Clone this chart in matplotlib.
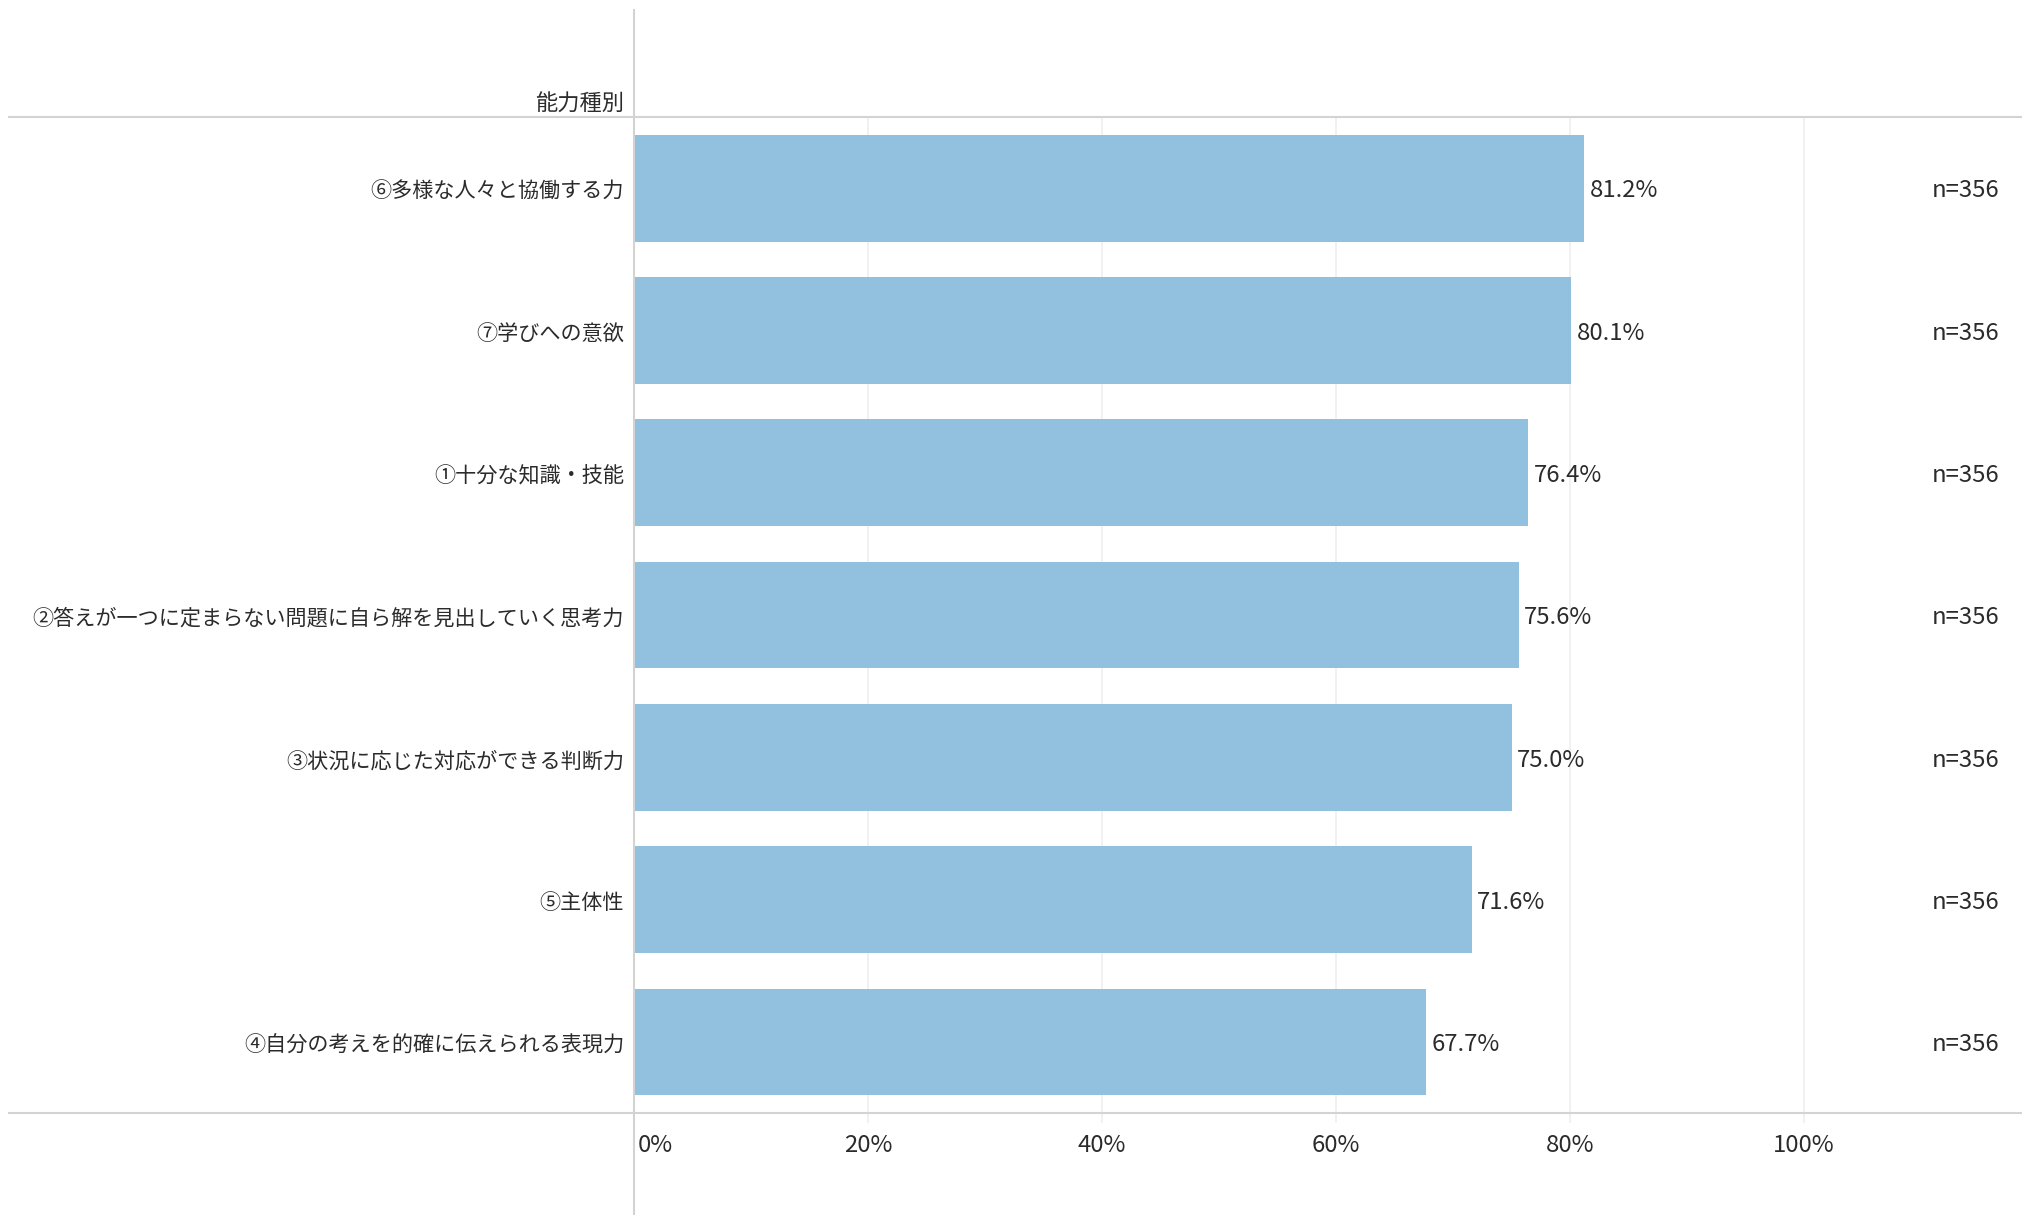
import matplotlib
matplotlib.use("Agg")
import matplotlib.pyplot as plt
from matplotlib.lines import Line2D
from matplotlib.transforms import blended_transform_factory, offset_copy

# data, top to bottom as shown
categories = [
    "⑥多様な人々と協働する力",
    "⑦学びへの意欲",
    "①十分な知識・技能",
    "②答えが一つに定まらない問題に自ら解を見出していく思考力",
    "③状況に応じた対応ができる判断力",
    "⑤主体性",
    "④自分の考えを的確に伝えられる表現力",
]
values = [81.2, 80.1, 76.4, 75.6, 75.0, 71.6, 67.7]
counts = [356, 356, 356, 356, 356, 356, 356]
xticks = [0, 20, 40, 60, 80, 100]
header = "能力種別"

plt.rcParams["font.family"] = ["Noto Sans CJK JP", "DejaVu Sans"]
ink = "#2b2b2b"
bar_col = "#92c0df"
rule = "#d3d3d3"
grid = "#efefef"
num_fs = 17.2
cat_fs = 15.2

W, H = 2022, 1215
fig = plt.figure(figsize=(W / 100, H / 100), dpi=100)
left, top, bottom, right = 634, 117, 1113, 2022
ax = fig.add_axes([left / W, 1 - bottom / H, (right - left) / W, (bottom - top) / H])

px_per_pct = 11.70
ax.set_xlim(0, (right - left) / px_per_pct)
ax.set_ylim(len(categories) - 0.5, -0.5)

ypos = list(range(len(categories)))
ax.barh(ypos, values, height=0.75, color=bar_col, zorder=2)

for x in xticks[1:]:
    ax.axvline(x, color=grid, lw=1.2, zorder=0)

for s in ax.spines.values():
    s.set_visible(False)

ax.set_xticks(xticks)
ax.set_xticklabels([f"{t}%" for t in xticks], fontsize=num_fs, color=ink)
ax.tick_params(axis="x", length=7, color=grid, width=1.2, pad=8)
first = ax.get_xticklabels()[0]
first.set_horizontalalignment("left")
first.set_transform(offset_copy(first.get_transform(), fig=fig, x=3, units="points"))

ax.set_yticks(ypos)
ax.set_yticklabels(categories, fontsize=cat_fs, color=ink)
ax.tick_params(axis="y", length=0, pad=7)
for lab in ax.get_yticklabels():
    lab.set_transform(offset_copy(lab.get_transform(), fig=fig, y=-1, units="points"))

for y, v in zip(ypos, values):
    ax.annotate(f"{v:.1f}%", (v, y), xytext=(4, -2), textcoords="offset points",
                va="center", ha="left", fontsize=num_fs, color=ink)

tr = blended_transform_factory(ax.transAxes, ax.transData)
tr = offset_copy(tr, fig=fig, y=-2, units="points")
for y, n in zip(ypos, counts):
    ax.text(0.9834, y, f"n={n}", transform=tr, va="center", ha="right",
            fontsize=num_fs, color=ink)

# header rules and row-header divider
fig.add_artist(Line2D([9 / W, 1], [1 - top / H] * 2, color=rule, lw=1.5))
fig.add_artist(Line2D([9 / W, 1], [1 - bottom / H] * 2, color=rule, lw=1.5))
fig.add_artist(Line2D([left / W] * 2, [0, 1 - 10 / H], color=rule, lw=1.5))

fig.text(624 / W, 1 - 104 / H, header, ha="right", va="center",
         fontsize=16, color=ink)

fig.savefig("out.png", dpi=100, facecolor="white")
